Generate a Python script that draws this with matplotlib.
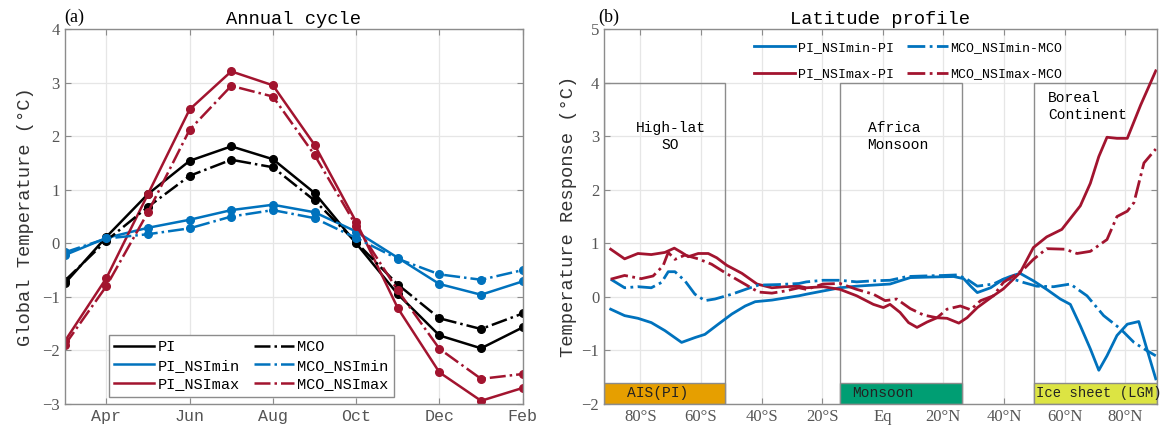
import numpy as np
import matplotlib
matplotlib.use("Agg")
from matplotlib import pyplot as plt
from matplotlib.patches import Rectangle

plt.rcParams['font.family'] = ['Liberation Mono', 'DejaVu Sans']

# ---------------- (a) annual cycle ----------------
months = np.arange(12)   # Mar ... Feb
month_ticks = [1, 3, 5, 7, 9, 11]
month_labels = ['Apr', 'Jun', 'Aug', 'Oct', 'Dec', 'Feb']

pi = [-0.75, 0.12, 0.92, 1.54, 1.81, 1.57, 0.94, 0.00, -0.95, -1.72, -1.96, -1.57]
mco = [-0.70, 0.05, 0.68, 1.26, 1.56, 1.42, 0.80, 0.02, -0.77, -1.40, -1.60, -1.31]
pi_nsimin = [-0.22, 0.10, 0.29, 0.44, 0.62, 0.72, 0.58, 0.22, -0.27, -0.76, -0.96, -0.71]
mco_nsimin = [-0.17, 0.09, 0.17, 0.28, 0.50, 0.62, 0.47, 0.10, -0.29, -0.58, -0.68, -0.50]
pi_nsimax = [-1.83, -0.65, 0.92, 2.50, 3.21, 2.95, 1.84, 0.40, -1.21, -2.41, -2.94, -2.70]
mco_nsimax = [-1.90, -0.80, 0.58, 2.12, 2.94, 2.74, 1.65, 0.33, -0.88, -1.97, -2.53, -2.44]

# ---------------- (b) latitude profile ----------------
lat_min_pi = [-89.8, -85.2, -80.8, -76.4, -71.9, -66.4, -62.0, -58.7, -54.3, -49.8, -45.4, -42.1, -36.6, -27.7,
              -25.2, -19.7, -14.1, -8.6, -3.1, 2.4, 5.7, 9.1, 15.7, 23.4, 26.7, 29.0, 31.2, 35.6,
              39.8, 42.0, 45.3, 49.7, 54.1, 58.6, 61.9, 65.2, 68.5, 71.3, 74.0, 77.3, 80.7, 84.5, 87.3, 90.1]
val_min_pi = [-0.23, -0.35, -0.40, -0.48, -0.63, -0.85, -0.76, -0.70, -0.51, -0.32, -0.17, -0.09, -0.06, 0.02,
              0.05, 0.11, 0.17, 0.20, 0.22, 0.24, 0.30, 0.36, 0.37, 0.38, 0.34, 0.20, 0.08, 0.17,
              0.33, 0.38, 0.44, 0.30, 0.14, -0.04, -0.14, -0.54, -0.97, -1.37, -1.10, -0.72, -0.51, -0.46, -1.00, -1.53]

lat_min_mco = [-89.8, -85.2, -80.8, -76.4, -73.0, -70.8, -68.6, -65.3, -62.0, -58.7, -55.4, -49.8, -44.3, -41.0,
               -34.4, -27.7, -25.2, -19.7, -14.1, -8.6, -3.1, 2.4, 8.0, 13.5, 20.1, 24.5, 27.8, 31.2,
               36.5, 39.8, 43.1, 46.4, 50.8, 56.4, 61.9, 67.4, 72.9, 78.5, 82.9, 86.2, 90.1]
val_min_mco = [0.33, 0.17, 0.19, 0.17, 0.27, 0.47, 0.47, 0.30, 0.05, -0.07, -0.04, 0.05, 0.16, 0.22,
               0.23, 0.25, 0.28, 0.31, 0.31, 0.28, 0.30, 0.31, 0.38, 0.39, 0.40, 0.41, 0.33, 0.20,
               0.24, 0.33, 0.33, 0.27, 0.20, 0.19, 0.24, 0.02, -0.35, -0.60, -0.85, -0.97, -1.10]

lat_max_pi = [-89.8, -85.2, -80.8, -76.4, -71.9, -68.8, -66.4, -64.2, -60.9, -57.6, -54.8, -51.5, -46.5, -41.5,
              -36.6, -32.2, -27.7, -25.2, -19.7, -14.1, -8.6, -3.1, 0.2, 2.4, 5.7, 8.5, 11.3, 14.6,
              17.9, 21.2, 25.1, 27.8, 31.2, 36.5, 39.8, 45.3, 49.7, 54.1, 59.1, 65.2, 68.5, 71.3,
              74.0, 77.3, 80.7, 85.1, 90.1]
val_max_pi = [0.89, 0.71, 0.81, 0.79, 0.83, 0.91, 0.83, 0.75, 0.81, 0.81, 0.73, 0.59, 0.44, 0.24,
              0.17, 0.19, 0.20, 0.17, 0.19, 0.14, 0.02, -0.14, -0.20, -0.14, -0.29, -0.48, -0.57, -0.47,
              -0.39, -0.40, -0.49, -0.39, -0.20, 0.02, 0.15, 0.45, 0.92, 1.12, 1.26, 1.70, 2.12, 2.62,
              2.98, 2.96, 2.96, 3.58, 4.22]

lat_max_mco = [-89.8, -85.2, -79.7, -75.8, -72.5, -70.8, -68.6, -65.3, -60.9, -56.5, -52.0, -46.5, -41.0, -36.6,
               -32.2, -27.7, -25.2, -19.7, -14.1, -8.6, -3.1, 0.8, 4.6, 9.1, 13.5, 17.9, 21.2, 25.6,
               29.0, 32.3, 36.5, 39.8, 43.1, 46.4, 49.7, 54.1, 60.2, 64.1, 68.5, 74.0, 77.3, 80.7,
               82.9, 86.2, 90.1]
val_max_mco = [0.33, 0.40, 0.34, 0.39, 0.58, 0.83, 0.70, 0.78, 0.71, 0.61, 0.45, 0.27, 0.09, 0.07,
               0.11, 0.17, 0.14, 0.24, 0.25, 0.14, 0.05, -0.07, -0.04, -0.22, -0.34, -0.39, -0.23, -0.17,
               -0.24, -0.07, 0.02, 0.27, 0.39, 0.51, 0.70, 0.90, 0.89, 0.81, 0.85, 1.07, 1.50, 1.60,
               1.76, 2.50, 2.76]

lat_ticks = [-80, -60, -40, -20, 0, 20, 40, 60, 80]
lat_labels = ['80°S', '60°S', '40°S', '20°S', 'Eq', '20°N', '40°N', '60°N', '80°N']

region_west = [-92, -14, 50]
region_east = [-52, 26, 90.5]
region_names = ['High-lat\nSO', 'Africa\nMonsoon', 'Boreal\nContinent']
strip_names = ['AIS(PI)', 'Monsoon', 'Ice sheet (LGM)']
strip_colors = ['#E69F00', '#009E73', '#DCE443']

black = 'black'
blue = '#0072BD'
red = '#A2142F'
frame_gray = '#8c8c8c'
tick_gray = '#555555'

fig = plt.figure(figsize=(11.6, 4.37), dpi=100)
ax1 = fig.add_axes([0.0558, 0.0755, 0.3948, 0.858])
ax2 = fig.add_axes([0.5207, 0.0755, 0.4767, 0.858])


def style_axes(ax):
    for s in ax.spines.values():
        s.set_color(frame_gray)
        s.set_linewidth(1.0)
    ax.tick_params(direction='in', length=4, color=frame_gray, top=True, right=True,
                   labelcolor=tick_gray)
    ax.grid(True, color='#e6e6e6', linewidth=0.9)
    ax.set_axisbelow(True)


# ---- left ----
style_axes(ax1)
kw = dict(marker='o', markersize=5.5, lw=1.8)
h1 = ax1.plot(months, pi, '-', color=black, label='PI', **kw)[0]
h2 = ax1.plot(months, pi_nsimin, '-', color=blue, label='PI_NSImin', **kw)[0]
h3 = ax1.plot(months, pi_nsimax, '-', color=red, label='PI_NSImax', **kw)[0]
h4 = ax1.plot(months, mco, '-.', color=black, label='MCO', **kw)[0]
h5 = ax1.plot(months, mco_nsimin, '-.', color=blue, label='MCO_NSImin', **kw)[0]
h6 = ax1.plot(months, mco_nsimax, '-.', color=red, label='MCO_NSImax', **kw)[0]
ax1.set_xlim(0, 11)
ax1.set_ylim(-3, 4)
ax1.set_xticks(month_ticks)
ax1.set_xticklabels(month_labels, fontsize=12)
ax1.set_yticks(range(-3, 5))
ax1.set_yticklabels(['−3', '−2', '−1', '0', '1', '2', '3', '4'],
                    fontsize=12, family='Liberation Serif')
ax1.set_ylabel('Global Temperature (°C)', fontsize=13.5, color='#333333', labelpad=6)
ax1.set_title('Annual cycle', fontsize=13.5, pad=4)
ax1.text(0.0, 1.008, '(a)', transform=ax1.transAxes, ha='left', va='bottom',
         fontsize=13, family='Liberation Serif')
lg = ax1.legend(handles=[h1, h2, h3, h4, h5, h6], ncol=2, loc='lower center',
                bbox_to_anchor=(0.408, 0.02), fontsize=11, handlelength=2.6,
                labelspacing=0.3, columnspacing=0.9, handletextpad=0.25,
                fancybox=False, framealpha=1, edgecolor=frame_gray, borderpad=0.35,
                borderaxespad=0)
for lh in lg.get_lines():
    lh.set_marker('')

# ---- right ----
style_axes(ax2)
for x0, x1, name, sname, col in zip(region_west, region_east, region_names, strip_names, strip_colors):
    ax2.add_patch(Rectangle((x0, -2), x1 - x0, 6, fill=False, edgecolor=frame_gray, lw=1.0, zorder=1))
    ax2.add_patch(Rectangle((x0, -2), x1 - x0, 0.4, facecolor=col, edgecolor=frame_gray, lw=1.0, zorder=1))

ax2.text(-70, 3.0, region_names[0], ha='center', va='center', fontsize=10.5, linespacing=1.3)
ax2.text(-5, 3.0, region_names[1], ha='left', va='center', fontsize=10.5, linespacing=1.3)
ax2.text(54.5, 3.55, region_names[2], ha='left', va='center', fontsize=10.5, linespacing=1.3)
ax2.text(-84.5, -1.8, strip_names[0], ha='left', va='center', fontsize=10.5, color='#222222')
ax2.text(-10, -1.8, strip_names[1], ha='left', va='center', fontsize=10.5, color='#222222')
ax2.text(50.5, -1.8, strip_names[2], ha='left', va='center', fontsize=10, color='#222222')

g1 = ax2.plot(lat_min_pi, val_min_pi, '-', color=blue, lw=2, label='PI_NSImin-PI')[0]
g2 = ax2.plot(lat_max_pi, val_max_pi, '-', color=red, lw=2, label='PI_NSImax-PI')[0]
g3 = ax2.plot(lat_min_mco, val_min_mco, '-.', color=blue, lw=2, label='MCO_NSImin-MCO')[0]
g4 = ax2.plot(lat_max_mco, val_max_mco, '-.', color=red, lw=2, label='MCO_NSImax-MCO')[0]
ax2.set_xlim(-92, 90.5)
ax2.set_ylim(-2, 5)
ax2.set_xticks(lat_ticks)
ax2.set_xticklabels(lat_labels, fontsize=12, family=['Liberation Serif', 'DejaVu Sans'])
ax2.set_yticks(range(-2, 6))
ax2.set_yticklabels(['−2', '−1', '0', '1', '2', '3', '4', '5'],
                    fontsize=12, family='Liberation Serif')
ax2.set_ylabel('Temperature Response (°C)', fontsize=13.5, color='#333333', labelpad=3)
ax2.set_title('Latitude profile', fontsize=13.5, pad=4)
ax2.text(-0.01, 1.008, '(b)', transform=ax2.transAxes, ha='left', va='bottom',
         fontsize=13, family='Liberation Serif')
ax2.legend(handles=[g1, g2, g3, g4], ncol=2, loc='center', bbox_to_anchor=(0.55, 0.915),
           fontsize=9.5, handlelength=3.1, labelspacing=1.1, columnspacing=1.0,
           handletextpad=0.2, frameon=False)

fig.savefig('out.png', dpi=100)
